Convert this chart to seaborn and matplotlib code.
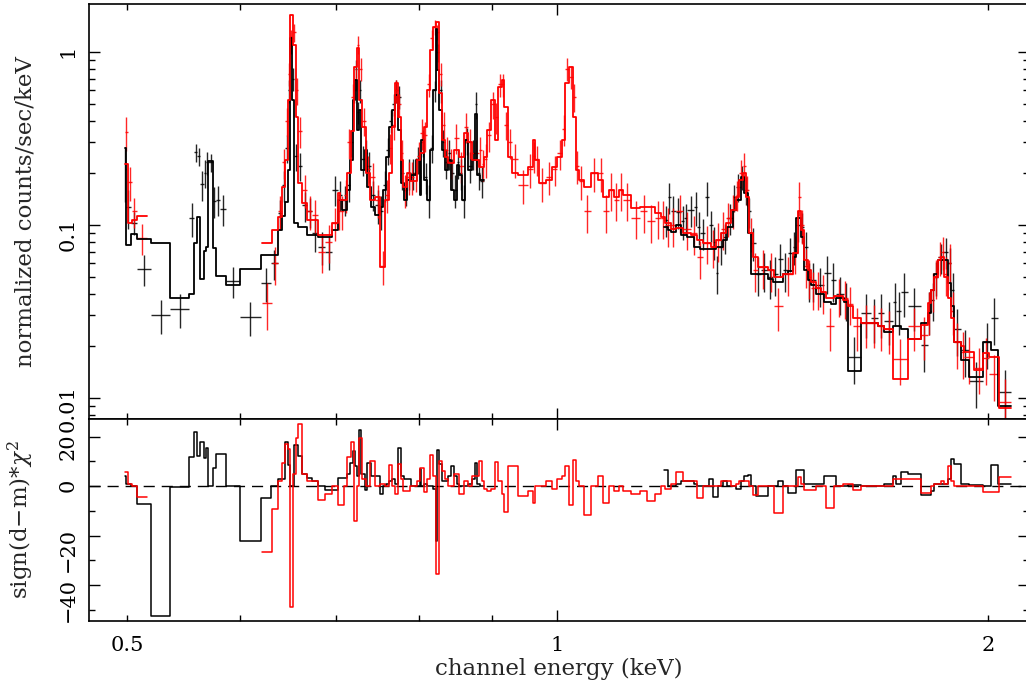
import numpy as np
import pandas as pd
import matplotlib
matplotlib.use("Agg")
import matplotlib.pyplot as plt
import matplotlib.transforms as mtrans
import seaborn as sns
from matplotlib.ticker import FixedLocator, FuncFormatter, NullFormatter, LogLocator

# ---------------- data (energies in keV) ----------------
# black spectrum, segment 1 (0.50-0.89 keV)
blk1_edges = [0.498, 0.499, 0.503, 0.508, 0.520, 0.536, 0.5525, 0.557, 0.560, 0.562, 0.566, 0.568, 0.570,
              0.574, 0.577, 0.581, 0.586, 0.600, 0.620, 0.630, 0.638,
              0.642, 0.645, 0.648, 0.650, 0.652, 0.654, 0.658, 0.663, 0.668, 0.674,
              0.680, 0.688, 0.696, 0.702, 0.707, 0.713, 0.716, 0.719, 0.722, 0.724,
              0.727, 0.729, 0.733, 0.736, 0.741, 0.746, 0.751, 0.755, 0.759, 0.763,
              0.766, 0.770, 0.773, 0.777, 0.781, 0.785, 0.790, 0.796, 0.801, 0.803,
              0.807, 0.811, 0.815, 0.819, 0.822, 0.824, 0.827, 0.830, 0.834, 0.838,
              0.842, 0.846, 0.850, 0.854, 0.858, 0.862, 0.866, 0.871, 0.875, 0.879,
              0.883, 0.888]
blk1_model = [0.28, 0.077, 0.089, 0.083, 0.079, 0.038, 0.040, 0.079, 0.111, 0.049, 0.071, 0.075, 0.235,
              0.074, 0.051, 0.051, 0.045, 0.056, 0.067, 0.067,
              0.094, 0.113, 0.136, 0.208, 1.20, 0.53, 0.103, 0.098, 0.098, 0.087,
              0.087, 0.085, 0.085, 0.094, 0.140, 0.122, 0.159, 0.238, 0.528, 0.69,
              0.354, 0.462, 0.208, 0.271, 0.166, 0.127, 0.114, 0.127, 0.159, 0.247,
              0.369, 0.462, 0.564, 0.354, 0.175, 0.140, 0.182, 0.194, 0.238, 0.149,
              0.310, 0.182, 0.140, 0.271, 0.603, 1.35, 0.787, 0.462, 0.271, 0.208,
              0.238, 0.159, 0.140, 0.222, 0.194, 0.140, 0.31, 0.208, 0.238, 0.44,
              0.194, 0.182]
blk1_data = [0.21, 0.127, 0.103, 0.0557, 0.0302, 0.0327, 0.110, 0.264, 0.25, 0.172, 0.20, 0.23, 0.23,
             0.138, 0.14, 0.124, 0.0475, 0.0294, 0.046, 0.060,
             0.117, 0.17, 0.28, 0.6, 1.1, 0.7, 0.25, 0.22, 0.13, 0.12,
             0.09, 0.075, 0.07, 0.16, 0.15, 0.14, 0.17, 0.3, 0.6, 0.8,
             0.45, 0.6, 0.24, 0.26, 0.22, 0.15, 0.13, 0.12, 0.17, 0.27,
             0.4, 0.5, 0.6, 0.55, 0.2, 0.16, 0.2, 0.2, 0.24, 0.19,
             0.3, 0.19, 0.14, 0.28, 0.6, 1.2, 1.0, 0.6, 0.3, 0.23,
             0.26, 0.2, 0.16, 0.23, 0.2, 0.14, 0.31, 0.22, 0.26, 0.5,
             0.2, 0.18]
blk1_relerr = [0.35, 0.25, 0.15, 0.2, 0.22, 0.22, 0.22, 0.12, 0.12, 0.2, 0.18, 0.15, 0.12,
               0.2, 0.2, 0.2, 0.2, 0.22, 0.22, 0.2,
               0.2, 0.2, 0.18, 0.15, 0.12, 0.15, 0.18, 0.18, 0.2, 0.2,
               0.22, 0.22, 0.22, 0.2, 0.2, 0.2, 0.2, 0.18, 0.15, 0.12,
               0.15, 0.15, 0.2, 0.2, 0.2, 0.2, 0.22, 0.22, 0.2, 0.18,
               0.15, 0.15, 0.15, 0.15, 0.2, 0.2, 0.2, 0.2, 0.18, 0.2,
               0.18, 0.2, 0.22, 0.18, 0.14, 0.1, 0.12, 0.15, 0.18, 0.2,
               0.2, 0.2, 0.22, 0.2, 0.2, 0.22, 0.18, 0.2, 0.2, 0.18,
               0.2, 0.2]
blk1_resid = [4, 1, 0, -7.3, -52.5, -0.3, 11.8, 22, 12.3, 17.9, 11.3, 15.3, 0,
              7.3, 12.9, 12.9, 0, -22, -4.7, 0,
              3, 3, 17.9, 8.5, 0, 0, 16.6, 12, 5, 3.2,
              2, 0, -1.6, -1.6, 3.2, 3.2, 5, 9.3, 14, 8,
              4, 22.6, 5, -1.6, 9.3, 4, 4, -3.2, 0, 1,
              2, 3, 1, 15.3, 4, 3, 3, 0, 0, 7,
              0, 1, 0, 0, -1, -22, 14.6, 9, 2, 2,
              4, 8, 4, 1, 0, 0, 0, 1, 3, 9.4,
              1, 0]

# black spectrum, segment 2 (1.19-2.08 keV)
blk2_edges = [1.187, 1.194, 1.200, 1.210, 1.220, 1.227, 1.233, 1.245, 1.253, 1.259,
              1.268, 1.276, 1.284, 1.290, 1.296, 1.305, 1.315, 1.326, 1.333, 1.343,
              1.350, 1.359, 1.365, 1.376, 1.387, 1.403, 1.414, 1.426, 1.438, 1.449,
              1.461, 1.468, 1.480, 1.487, 1.497, 1.504, 1.516, 1.536, 1.553, 1.566,
              1.586, 1.596, 1.630, 1.657, 1.675, 1.692, 1.717, 1.725, 1.739, 1.758,
              1.796, 1.816, 1.825, 1.834, 1.846, 1.861, 1.876, 1.885, 1.894, 1.915,
              1.940, 1.985, 2.010, 2.033, 2.076]
blk2_model = [0.098, 0.094, 0.091, 0.100, 0.087, 0.087, 0.085, 0.075, 0.075, 0.073,
              0.073, 0.073, 0.073, 0.075, 0.075, 0.082, 0.098, 0.122, 0.14, 0.19,
              0.153, 0.09, 0.052, 0.052, 0.052, 0.049, 0.047, 0.047, 0.052, 0.054,
              0.065, 0.11, 0.085, 0.055, 0.048, 0.045, 0.04, 0.036, 0.035, 0.038,
              0.036, 0.0143, 0.027, 0.027, 0.026, 0.024, 0.026, 0.026, 0.025, 0.022,
              0.027, 0.031, 0.042, 0.052, 0.063, 0.063, 0.046, 0.034, 0.021, 0.0165,
              0.0132, 0.021, 0.019, 0.009]
blk2_data = [0.107, 0.145, 0.12, 0.119, 0.105, 0.11, 0.122, 0.127, 0.098, 0.09,
             0.145, 0.10, 0.08, 0.053, 0.075, 0.085, 0.11, 0.145, 0.166, 0.19,
             0.16, 0.12, 0.079, 0.052, 0.055, 0.05, 0.052, 0.064, 0.055, 0.069,
             0.075, 0.1, 0.098, 0.075, 0.048, 0.048, 0.045, 0.053, 0.048, 0.04,
             0.037, 0.0173, 0.031, 0.029, 0.031, 0.028, 0.036, 0.032, 0.041, 0.034,
             0.0203, 0.032, 0.037, 0.05, 0.065, 0.07, 0.06, 0.042, 0.025, 0.019,
             0.0125, 0.021, 0.029, 0.0108]
blk2_relerr = [0.2, 0.2, 0.22, 0.2, 0.22, 0.2, 0.2, 0.22, 0.22, 0.2,
               0.22, 0.2, 0.22, 0.25, 0.22, 0.2, 0.2, 0.18, 0.18, 0.16,
               0.18, 0.2, 0.22, 0.25, 0.25, 0.25, 0.25, 0.22, 0.25, 0.22,
               0.22, 0.2, 0.2, 0.22, 0.25, 0.25, 0.25, 0.25, 0.25, 0.25,
               0.25, 0.3, 0.28, 0.28, 0.28, 0.28, 0.28, 0.28, 0.28, 0.28,
               0.3, 0.28, 0.25, 0.22, 0.2, 0.2, 0.22, 0.25, 0.3, 0.3,
               0.3, 0.3, 0.3, 0.35]
blk2_resid = [6.5, 0, 0, 1, 2, 2, 2, 1, 0, 0,
              0, 3, -4.5, -4.5, 0, 2, 0, 0, -1, 2,
              4, 4.5, 0, -4, -4, 0, 0, 2, 0, -2.8,
              -2.8, 6.5, 6.5, 1, 1, 1, 1, 4, 4, 0,
              0, 0.5, 0, 0, 0, 1, 4, 1, 5.7, 5,
              -3.6, -3.6, -2, 1, 1, 1, 3, 11, 9, 1,
              0.5, 0, 8.5, 1]

# red spectrum, segment 1 (0.50-0.52 keV)
red1_edges = [0.498, 0.501, 0.504, 0.508, 0.516]
red1_model = [0.225, 0.103, 0.107, 0.113]
red1_data = [0.345, 0.177, 0.12, 0.084]
red1_relerr = [0.22, 0.22, 0.2, 0.2]
red1_resid = [5.8, 0.8, 0, -4.3]

# red spectrum, segment 2 (0.62-2.08 keV)
red2_edges = [0.621, 0.631, 0.638, 0.642, 0.645, 0.648, 0.650, 0.653, 0.656, 0.659,
              0.663, 0.668, 0.674, 0.680, 0.688, 0.696, 0.702, 0.705, 0.709, 0.713,
              0.717, 0.721, 0.724, 0.727, 0.730, 0.735, 0.740, 0.746, 0.752, 0.758,
              0.762, 0.766, 0.770, 0.773, 0.777, 0.780, 0.785, 0.789, 0.794, 0.798,
              0.802, 0.806, 0.811, 0.815, 0.819, 0.822, 0.826, 0.831, 0.835, 0.839,
              0.846, 0.853, 0.860, 0.866, 0.872, 0.881, 0.885, 0.889, 0.893, 0.899,
              0.904, 0.908, 0.914, 0.918, 0.923, 0.930, 0.938, 0.953, 0.961, 0.965,
              0.970, 0.981, 0.992, 1.000, 1.008, 1.013, 1.018, 1.025, 1.030, 1.035,
              1.043, 1.055, 1.067, 1.077, 1.086, 1.095, 1.104, 1.112, 1.125, 1.143,
              1.156, 1.171, 1.181, 1.190, 1.200, 1.210, 1.225, 1.239, 1.253, 1.264,
              1.280, 1.290, 1.301, 1.311, 1.322, 1.333, 1.339, 1.348, 1.354, 1.361,
              1.370, 1.381, 1.403, 1.417, 1.438, 1.461, 1.473, 1.480, 1.487, 1.497,
              1.504, 1.516, 1.528, 1.541, 1.561, 1.584, 1.596, 1.609, 1.630, 1.657,
              1.675, 1.692, 1.717, 1.758, 1.796, 1.816, 1.825, 1.834, 1.846, 1.855,
              1.864, 1.876, 1.885, 1.894, 1.915, 1.925, 1.956, 1.985, 2.004, 2.036,
              2.076]
red2_model = [0.079, 0.094, 0.111, 0.166, 0.238, 0.528, 1.64, 1.1, 0.42, 0.175,
              0.134, 0.107, 0.107, 0.087, 0.087, 0.103, 0.153, 0.14, 0.14, 0.2,
              0.35, 0.82, 1.05, 0.53, 0.37, 0.2, 0.14, 0.145, 0.057, 0.14,
              0.2, 0.37, 0.66, 0.42, 0.238, 0.166, 0.2, 0.18, 0.18, 0.238,
              0.26, 0.37, 0.6, 1.03, 1.39, 1.49, 0.58, 0.31, 0.247, 0.228,
              0.271, 0.247, 0.34, 0.3, 0.238, 0.217, 0.217, 0.247, 0.354, 0.528,
              0.31, 0.63, 0.69, 0.48, 0.247, 0.2, 0.194, 0.217, 0.31, 0.238,
              0.175, 0.182, 0.217, 0.247, 0.31, 0.66, 0.82, 0.42, 0.208, 0.182,
              0.166, 0.2, 0.182, 0.145, 0.159, 0.145, 0.159, 0.15, 0.125, 0.127,
              0.127, 0.117, 0.111, 0.103, 0.095, 0.096, 0.09, 0.087, 0.082, 0.079,
              0.075, 0.082, 0.09, 0.103, 0.122, 0.145, 0.182, 0.2, 0.145, 0.09,
              0.065, 0.057, 0.055, 0.05, 0.052, 0.069, 0.12, 0.094, 0.063, 0.055,
              0.047, 0.043, 0.041, 0.038, 0.039, 0.037, 0.034, 0.029, 0.027, 0.027,
              0.026, 0.025, 0.0129, 0.022, 0.0265, 0.0355, 0.042, 0.05, 0.063, 0.065,
              0.05, 0.038, 0.029, 0.021, 0.02, 0.0185, 0.0146, 0.0182, 0.0173, 0.0088]
red2_data = [0.0355, 0.06, 0.12, 0.23, 0.4, 0.75, 1.2, 1.3, 0.6, 0.35,
             0.16, 0.12, 0.115, 0.07, 0.08, 0.103, 0.12, 0.12, 0.15, 0.3,
             0.55, 0.7, 1.1, 0.8, 0.4, 0.21, 0.19, 0.14, 0.058, 0.15,
             0.28, 0.38, 0.6, 0.5, 0.26, 0.16, 0.19, 0.19, 0.2, 0.25,
             0.34, 0.33, 0.65, 1.2, 1.4, 1.3, 0.75, 0.38, 0.27, 0.23,
             0.32, 0.22, 0.37, 0.3, 0.26, 0.27, 0.225, 0.24, 0.33, 0.5,
             0.42, 0.65, 0.65, 0.38, 0.3, 0.24, 0.17, 0.21, 0.25, 0.24,
             0.175, 0.19, 0.21, 0.26, 0.36, 0.8, 0.72, 0.55, 0.22, 0.18,
             0.12, 0.2, 0.2, 0.12, 0.16, 0.14, 0.16, 0.14, 0.11, 0.12,
             0.105, 0.11, 0.11, 0.1, 0.1, 0.12, 0.095, 0.09, 0.065, 0.079,
             0.075, 0.082, 0.095, 0.11, 0.122, 0.15, 0.2, 0.22, 0.16, 0.09,
             0.055, 0.057, 0.055, 0.034, 0.052, 0.069, 0.145, 0.1, 0.058, 0.05,
             0.043, 0.043, 0.041, 0.026, 0.039, 0.038, 0.035, 0.026, 0.027, 0.027,
             0.026, 0.025, 0.0169, 0.026, 0.023, 0.032, 0.042, 0.05, 0.065, 0.07,
             0.052, 0.06, 0.032, 0.021, 0.0185, 0.0173, 0.015, 0.017, 0.0137, 0.0095]
red2_relerr = [0.3, 0.25, 0.22, 0.2, 0.18, 0.15, 0.12, 0.12, 0.18, 0.2,
               0.22, 0.22, 0.22, 0.25, 0.25, 0.22, 0.22, 0.22, 0.22, 0.2,
               0.18, 0.15, 0.12, 0.15, 0.18, 0.2, 0.2, 0.22, 0.22, 0.22,
               0.2, 0.18, 0.15, 0.15, 0.2, 0.22, 0.22, 0.22, 0.22, 0.2,
               0.2, 0.2, 0.15, 0.12, 0.1, 0.1, 0.15, 0.18, 0.2, 0.2,
               0.2, 0.2, 0.2, 0.2, 0.2, 0.2, 0.2, 0.22, 0.2, 0.18,
               0.2, 0.15, 0.15, 0.18, 0.2, 0.22, 0.22, 0.22, 0.2, 0.2,
               0.22, 0.22, 0.2, 0.2, 0.2, 0.15, 0.15, 0.18, 0.22, 0.22,
               0.25, 0.22, 0.22, 0.25, 0.25, 0.25, 0.25, 0.25, 0.25, 0.25,
               0.25, 0.25, 0.25, 0.25, 0.25, 0.25, 0.25, 0.25, 0.25, 0.25,
               0.25, 0.25, 0.25, 0.22, 0.22, 0.2, 0.18, 0.18, 0.2, 0.22,
               0.25, 0.25, 0.25, 0.28, 0.25, 0.25, 0.22, 0.22, 0.25, 0.25,
               0.25, 0.25, 0.25, 0.28, 0.25, 0.25, 0.25, 0.28, 0.28, 0.28,
               0.28, 0.28, 0.3, 0.28, 0.28, 0.28, 0.25, 0.25, 0.22, 0.22,
               0.25, 0.3, 0.28, 0.3, 0.3, 0.3, 0.3, 0.3, 0.3, 0.35]
red2_resid = [-26.5, -9.3, 2, 9.3, 17, 15, -49, 5, 19.4, 25,
              5, 2, 2, -5.7, -3, 0, -7.7, -7.7, 0, 11.7,
              18, -14.2, 0, 19.5, 3, 0, 10, 0, 1, 0,
              8.7, 0, -3, 9, 3, -2, -2, 0, 0, 2,
              7.4, -2.3, 3, 12.5, 4, -35.6, 10, 6, 3, 0,
              5, -3, 2, 0, 4, 10, 2, -1, -2, -1,
              9.8, 2, -3, -10.4, 8, 8, -4, -2, -7, 0,
              0, 2, -1, 3, 4, 8, -7.7, 10.5, 2, 0,
              -11.7, 0, 4, -6.9, 0, -2, 0, -2, -3, -2,
              -6, -3, 0, -1, 1, 5.7, 2, 2, -5, 0,
              0, 0, 2, 2, 0, 1, 2, 2, 2, 0,
              -3.6, 0, 0, -11, 0, 0, 3.8, 1, -1.6, -1.6,
              -1.6, 0, 0, -9, 0, 1, 1, -1.6, 0, 0,
              0, 0, 3, 3, -2.8, -2.8, 0, 1, 1, 2,
              1, 8, 2, 0, 0, 0, 0, -2.4, -2.4, 3.6]

x_major = [1.0]
x_minor = [0.5, 0.6, 0.7, 0.8, 0.9, 2.0]
x_labels = {0.5: "0.5", 1.0: "1", 2.0: "2"}
y_top_major = [0.01, 0.1, 1.0]
y_top_labels = {0.01: "0.01", 0.1: "0.1", 1.0: "1"}
y_res_major = [-40, -20, 0, 20]
y_res_minor = [-50, -30, -10, 10]

# ---------------- style ----------------
sns.set_theme(style="ticks")
plt.rcParams['font.family'] = ['DejaVu Serif']
plt.rcParams['mathtext.fontset'] = 'dejavuserif'
plt.rcParams['axes.linewidth'] = 1.2

BLACK = "#000000"
RED = "#ff0000"


def step_frame(segments, name):
    rows = []
    for seg, (edges, vals) in enumerate(segments):
        yv = list(vals) + [vals[-1]]
        for e, v in zip(edges, yv):
            rows.append((seg, e, v))
    return pd.DataFrame(rows, columns=["seg", "E", name])


def cross_frame(segments):
    rows = []
    for edges, data, rel in segments:
        for i in range(len(data)):
            lo, hi = edges[i], edges[i + 1]
            rows.append(((lo + hi) / 2, (hi - lo) / 2, data[i], data[i] * rel[i]))
    return pd.DataFrame(rows, columns=["E", "dE", "y", "dy"])


fig = plt.figure(figsize=(10.26, 6.87), dpi=100)
ax1 = fig.add_axes([0.08674, 0.39010, 0.91618, 0.60408])
ax2 = fig.add_axes([0.08674, 0.09607, 0.91618, 0.29403], sharex=ax1)

datasets = [
    (BLACK, [(blk1_edges, blk1_model, blk1_data, blk1_relerr, blk1_resid),
             (blk2_edges, blk2_model, blk2_data, blk2_relerr, blk2_resid)]),
    (RED, [(red1_edges, red1_model, red1_data, red1_relerr, red1_resid),
           (red2_edges, red2_model, red2_data, red2_relerr, red2_resid)]),
]

for color, segs in datasets:
    cf = cross_frame([(s[0], s[2], s[3]) for s in segs])
    ax1.errorbar(cf["E"], cf["y"], xerr=cf["dE"], yerr=cf["dy"], fmt="none",
                 ecolor=color, elinewidth=1.0, capsize=0, alpha=0.85, zorder=2)
    mf = step_frame([(s[0], s[1]) for s in segs], "model")
    sns.lineplot(data=mf, x="E", y="model", units="seg", estimator=None,
                 drawstyle="steps-post", color=color, lw=1.3, ax=ax1,
                 legend=False, sort=False, zorder=3)
    rf = step_frame([(s[0], s[4]) for s in segs], "resid")
    sns.lineplot(data=rf, x="E", y="resid", units="seg", estimator=None,
                 drawstyle="steps-post", color=color, lw=1.1, ax=ax2,
                 legend=False, sort=False, zorder=3)

ax2.axhline(0, color="black", lw=1.0, ls=(0, (8, 5)), zorder=1)

for ax in (ax1, ax2):
    ax.set_xscale("log")
    ax.set_xlim(0.4703, 2.137)
    ax.xaxis.set_major_locator(FixedLocator(x_major))
    ax.xaxis.set_minor_locator(FixedLocator(x_minor))
    ax.tick_params(which="both", direction="in", top=True, right=True,
                   width=1.0, labelsize=15, colors="black")
    ax.tick_params(which="major", length=8)
    ax.tick_params(which="minor", length=4.5)
    ax.tick_params(axis="y", labelrotation=90, pad=8)
    for sp in ax.spines.values():
        sp.set_color("black")
        sp.set_linewidth(1.2)

ax1.set_yscale("log")
ax1.set_ylim(0.00756, 1.895)
ax1.yaxis.set_major_locator(FixedLocator(y_top_major))
ax1.yaxis.set_major_formatter(FuncFormatter(lambda v, p: y_top_labels.get(round(v, 3), "")))
ax1.yaxis.set_minor_locator(LogLocator(base=10, subs=(2, 3, 4, 5, 6, 7, 8, 9)))
ax1.yaxis.set_minor_formatter(NullFormatter())
ax1.tick_params(axis="x", which="both", labelbottom=False)
ax1.set_xlabel("")
ax1.set_ylabel("normalized counts/sec/keV", fontsize=16.5)
ax1.yaxis.set_label_coords(-0.056, 0.5)

ax2.set_ylim(-54.5, 27.1)
ax2.yaxis.set_major_locator(FixedLocator(y_res_major))
ax2.yaxis.set_minor_locator(FixedLocator(y_res_minor))
ax2.yaxis.set_major_formatter(FuncFormatter(lambda v, p: "%d" % v if v >= 0 else "\u2212%d" % abs(v)))
ax2.xaxis.set_major_formatter(FuncFormatter(lambda v, p: x_labels.get(round(v, 2), "")))
ax2.xaxis.set_minor_formatter(FuncFormatter(lambda v, p: x_labels.get(round(v, 2), "")))
ax2.tick_params(axis="x", which="both", pad=11, labelsize=15)
ax2.set_xlabel("channel energy (keV)", fontsize=16.5, labelpad=2)
ax2.set_ylabel(r"sign(d$-$m)*$\chi^2$", fontsize=16.5)
ax2.yaxis.set_label_coords(-0.056, 0.5)

# nudge the two tick labels that meet at the panel boundary apart (as in "20" / "0.01")
fig.canvas.draw()
for tick in ax1.yaxis.get_major_ticks():
    if abs(tick.get_loc() - 0.01) < 1e-6:
        tick.label1.set_transform(tick.label1.get_transform() +
                                  mtrans.ScaledTranslation(0, 4 / 72, fig.dpi_scale_trans))
for tick in ax2.yaxis.get_major_ticks():
    if abs(tick.get_loc() - 20) < 1e-6:
        tick.label1.set_transform(tick.label1.get_transform() +
                                  mtrans.ScaledTranslation(0, -3 / 72, fig.dpi_scale_trans))

fig.savefig("out.png", dpi=100)
